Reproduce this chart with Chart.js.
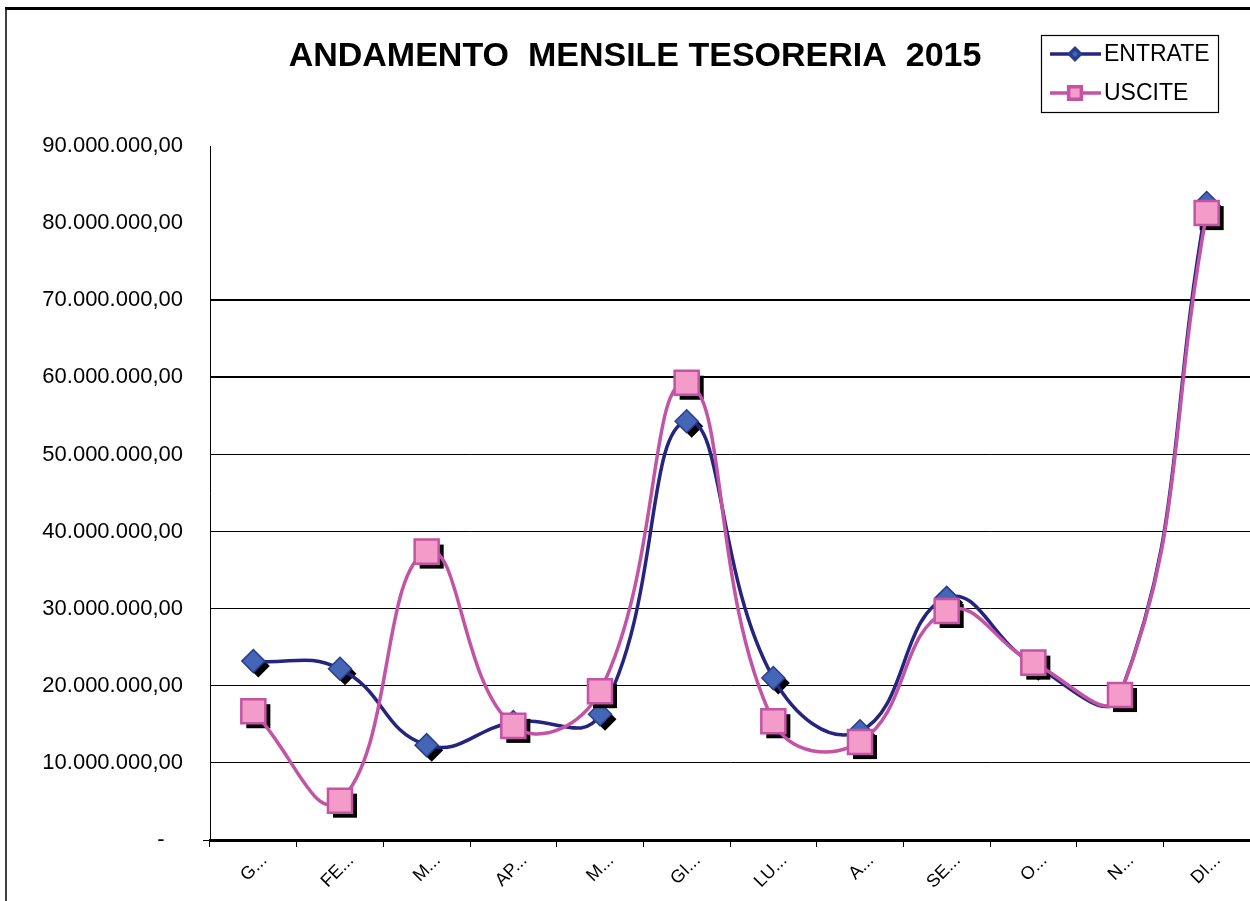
<!DOCTYPE html>
<html>
<head>
<meta charset="utf-8">
<script src="https://cdn.jsdelivr.net/npm/chart.js@4"></script>
<style>
  html, body { margin: 0; padding: 0; background: #fff; }
  #wrap { width: 1250px; height: 901px; position: relative; }
</style>
</head>
<body>
<div id="wrap"><canvas id="chart" width="1250" height="901"></canvas></div>
<script>
// values (euro)
const months = ['G...', 'FE...', 'M...', 'AP...', 'M...', 'GI...', 'LU...', 'A...', 'SE...', 'O...', 'N...', 'DI...'];
const entrate = [23200000, 22200000, 12300000, 15300000, 16300000, 54300000, 21000000, 14100000, 31400000, 22800000, 18800000, 82600000];
const uscite = [16700000, 5100000, 37400000, 14800000, 19300000, 59300000, 15400000, 12700000, 29700000, 23000000, 18800000, 81300000];
const yMin = 0;
const yMax = 90000000;
const yStep = 10000000;

const titleText = 'ANDAMENTO  MENSILE TESORERIA  2015';
const FONT = '"Liberation Sans", Arial, sans-serif';

Chart.defaults.color = '#000';
Chart.defaults.font.family = FONT;

/** Italian style number: 90.000.000,00 -- zero shown as a dash like Excel's accounting format. */
function fmtEuro(v) {
  if (v === 0) return '-   ';
  const intPart = Math.round(v).toString().replace(/\B(?=(\d{3})+(?!\d))/g, '.');
  return intPart + ',00';
}

// black drop shadow under each marker, offset down-right
const markerShadow = {
  id: 'markerShadow',
  beforeDatasetDraw(chart, args) {
    const ds = chart.data.datasets[args.index];
    const ctx = chart.ctx;
    ctx.save();
    ctx.fillStyle = '#000';
    args.meta.data.forEach((pt) => {
      Chart.helpers.drawPoint(ctx, { pointStyle: ds.pointStyle, radius: ds.pointRadius, rotation: 0, borderWidth: 0 }, pt.x + 5, pt.y + 5);
    });
    ctx.restore();
  },
};

// outer frame, title and boxed legend, drawn the way the spreadsheet does
const decor = {
  id: 'decor',
  beforeDraw(chart) {
    const ctx = chart.ctx;
    ctx.save();
    ctx.fillStyle = '#fff';
    ctx.fillRect(0, 0, chart.width, chart.height);
    ctx.strokeStyle = '#000';
    ctx.lineWidth = 3;
    ctx.beginPath();
    ctx.moveTo(5, 8.5);
    ctx.lineTo(chart.width, 8.5);
    ctx.stroke();
    ctx.lineWidth = 1.5;
    ctx.beginPath();
    ctx.moveTo(6, 8);
    ctx.lineTo(6, chart.height);
    ctx.stroke();
    ctx.restore();
  },
  afterDraw(chart) {
    const ctx = chart.ctx;
    ctx.save();
    ctx.fillStyle = '#000';
    ctx.font = 'bold 34px ' + FONT;
    ctx.textAlign = 'center';
    ctx.textBaseline = 'middle';
    ctx.fillText(titleText, 635, 57);

    // legend box
    ctx.strokeStyle = '#000';
    ctx.lineWidth = 1.2;
    ctx.strokeRect(1041.5, 35.5, 177, 77);
    const rows = [54, 93];
    const sizes = [5.5, 9];
    chart.data.datasets.forEach((ds, i) => {
      const y = rows[i];
      ctx.strokeStyle = ds.borderColor;
      ctx.lineWidth = 3.5;
      ctx.beginPath();
      ctx.moveTo(1050, y);
      ctx.lineTo(1101, y);
      ctx.stroke();
      ctx.fillStyle = ds.pointBackgroundColor;
      ctx.strokeStyle = ds.pointBorderColor;
      Chart.helpers.drawPoint(ctx, { pointStyle: ds.pointStyle, radius: sizes[i], rotation: 0, borderWidth: 1.5 }, 1075, y);
      ctx.fillStyle = '#000';
      ctx.font = '23px ' + FONT;
      ctx.textAlign = 'left';
      ctx.textBaseline = 'middle';
      ctx.fillText(ds.label, 1104, y + 1);
    });
    ctx.restore();
  },
};

new Chart(document.getElementById('chart'), {
  type: 'line',
  data: {
    labels: months,
    datasets: [
      {
        label: 'ENTRATE',
        data: entrate,
        borderColor: '#25257f',
        borderWidth: 3.5,
        pointStyle: 'rectRot',
        pointRadius: 11.5,
        pointBackgroundColor: '#4566b6',
        pointBorderColor: '#283e8c',
        pointBorderWidth: 1.5,
        tension: 0.45,
        fill: false,
        order: 1,
      },
      {
        label: 'USCITE',
        data: uscite,
        borderColor: '#c353a4',
        borderWidth: 3.5,
        pointStyle: 'rect',
        pointRadius: 17,
        pointBackgroundColor: '#f39bc9',
        pointBorderColor: '#c353a4',
        pointBorderWidth: 2.5,
        tension: 0.45,
        fill: false,
        order: 0,
      },
    ],
  },
  options: {
    responsive: false,
    animation: false,
    events: [],
    devicePixelRatio: 1,
    layout: { autoPadding: false, padding: { top: 146, left: 0, right: 0, bottom: 0 } },
    plugins: {
      legend: { display: false },
      title: { display: false },
      tooltip: { enabled: false },
    },
    scales: {
      x: {
        offset: true,
        afterFit: (s) => { s.height = 61; s.paddingRight = 0; s.paddingLeft = 0; },
        grid: { offset: true, drawOnChartArea: false, drawTicks: true, tickLength: 7, tickColor: '#000', tickWidth: 1 },
        border: { display: true, color: '#000', width: 3 },
        ticks: { font: { size: 18 }, color: '#000', maxRotation: 45, minRotation: 45, autoSkip: false, padding: 3, labelOffset: 11 },
      },
      y: {
        min: yMin,
        max: yMax,
        afterFit: (s) => { s.width = 210; },
        border: { display: true, color: '#000', width: 1 },
        grid: {
          color: (c) => (c.tick && c.tick.value > 0 && c.tick.value <= 70000000 ? '#000' : 'rgba(0,0,0,0)'),
          lineWidth: (c) => (c.tick && (c.tick.value === 60000000 || c.tick.value === 70000000) ? 2 : 1),
          drawTicks: true,
          tickLength: 7,
          tickColor: (c) => (c.tick && c.tick.value === 0 ? '#000' : 'rgba(0,0,0,0)'),
        },
        ticks: { stepSize: yStep, font: { size: 22 }, color: '#000', padding: 20, callback: (v) => fmtEuro(v) },
      },
    },
  },
  plugins: [decor, markerShadow],
});
</script>
</body>
</html>
